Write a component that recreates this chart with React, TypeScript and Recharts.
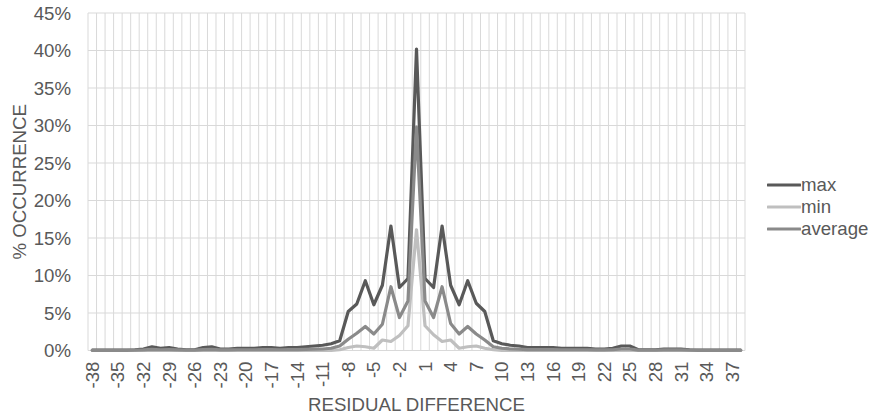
import React from 'react';
import { LineChart, Line, XAxis, YAxis, CartesianGrid } from 'recharts';

// Residual difference categories (-38 … 38)
const categories = [
  -38, -37, -36, -35, -34, -33, -32, -31, -30, -29, -28, -27, -26, -25, -24, -23, -22, -21, -20,
  -19, -18, -17, -16, -15, -14, -13, -12, -11, -10, -9, -8, -7, -6, -5, -4, -3, -2, -1, 0,
  1, 2, 3, 4, 5, 6, 7, 8, 9, 10, 11, 12, 13, 14, 15, 16, 17, 18, 19, 20,
  21, 22, 23, 24, 25, 26, 27, 28, 29, 30, 31, 32, 33, 34, 35, 36, 37, 38,
];

// % occurrence per category
const maxValues = [
  0.05, 0.05, 0.05, 0.05, 0.05, 0.1, 0.2, 0.5, 0.3, 0.4, 0.2, 0.1, 0.1, 0.4, 0.5, 0.2, 0.2, 0.3, 0.3,
  0.3, 0.4, 0.4, 0.3, 0.4, 0.4, 0.5, 0.6, 0.7, 0.9, 1.3, 5.2, 6.2, 9.3, 6.1, 8.7, 16.6, 8.4, 9.6, 40.2,
  9.6, 8.4, 16.6, 8.7, 6.1, 9.3, 6.3, 5.2, 1.3, 0.9, 0.7, 0.6, 0.4, 0.4, 0.4, 0.4, 0.3, 0.3, 0.3, 0.3,
  0.2, 0.2, 0.3, 0.6, 0.6, 0.1, 0.1, 0.1, 0.2, 0.2, 0.2, 0.1, 0.05, 0.05, 0.05, 0.05, 0.05, 0.05,
];

const minValues = [
  0, 0, 0, 0, 0, 0, 0, 0, 0, 0, 0, 0, 0, 0, 0, 0, 0, 0, 0,
  0, 0, 0, 0, 0, 0, 0, 0, 0, 0, 0.1, 0.4, 0.6, 0.5, 0.3, 1.4, 1.2, 2.0, 3.3, 16.1,
  3.3, 2.1, 1.2, 1.4, 0.3, 0.5, 0.6, 0.3, 0.1, 0, 0, 0, 0, 0, 0, 0, 0, 0, 0, 0,
  0, 0, 0, 0, 0, 0, 0, 0, 0, 0, 0, 0, 0, 0, 0, 0, 0, 0,
];

const averageValues = [
  0.02, 0.02, 0.02, 0.02, 0.02, 0.05, 0.08, 0.15, 0.1, 0.12, 0.08, 0.05, 0.05, 0.12, 0.15, 0.08, 0.08, 0.1, 0.1,
  0.1, 0.12, 0.12, 0.1, 0.12, 0.12, 0.15, 0.18, 0.2, 0.3, 0.6, 1.5, 2.3, 3.2, 2.2, 3.5, 8.5, 4.4, 6.6, 29.8,
  6.6, 4.4, 8.5, 3.6, 2.2, 3.2, 2.2, 1.4, 0.5, 0.3, 0.2, 0.18, 0.12, 0.12, 0.12, 0.12, 0.1, 0.1, 0.1, 0.1,
  0.08, 0.08, 0.1, 0.2, 0.2, 0.05, 0.05, 0.05, 0.08, 0.08, 0.08, 0.05, 0.02, 0.02, 0.02, 0.02, 0.02, 0.02,
];

const xTickLabels = [-38, -35, -32, -29, -26, -23, -20, -17, -14, -11, -8, -5, -2, 1, 4, 7, 10, 13, 16, 19, 22, 25, 28, 31, 34, 37];
const yTickLabels = [0, 5, 10, 15, 20, 25, 30, 35, 40, 45];

const series = [
  { key: 'max', name: 'max', color: '#595959' },
  { key: 'min', name: 'min', color: '#bfbfbf' },
  { key: 'average', name: 'average', color: '#8a8a8a' },
];

const data = categories.map((c, i) => ({
  x: c,
  max: maxValues[i],
  min: minValues[i],
  average: averageValues[i],
}));

// category band boundaries for the vertical grid
const bandEdges = [...categories.map((c) => c - 0.5), categories[categories.length - 1] + 0.5];

const FONT = '"Liberation Sans", Arial, sans-serif';
const FONT_SIZE = 18.67;
const TEXT = '#595959';

const XTick = (props: any) => {
  const { x, y, payload } = props;
  return (
    <text
      x={x}
      y={y}
      transform={`rotate(-90, ${x}, ${y})`}
      textAnchor="end"
      dy="0.35em"
      fill={TEXT}
      fontSize={FONT_SIZE}
      fontFamily={FONT}
    >
      {payload.value}
    </text>
  );
};

const YTitle = (props: any) => {
  const { viewBox } = props;
  const cx = viewBox.x + 19;
  const cy = viewBox.y + viewBox.height / 2;
  return (
    <text
      x={cx}
      y={cy}
      transform={`rotate(-90, ${cx}, ${cy})`}
      textAnchor="middle"
      dy="0.35em"
      fill={TEXT}
      fontSize={FONT_SIZE}
      fontFamily={FONT}
    >
      % OCCURRENCE
    </text>
  );
};

const XTitle = (props: any) => {
  const { viewBox } = props;
  const cx = viewBox.x + viewBox.width / 2;
  const cy = viewBox.y + 53.5;
  return (
    <text x={cx} y={cy} textAnchor="middle" dy="0.35em" fill={TEXT} fontSize={FONT_SIZE} fontFamily={FONT}>
      RESIDUAL DIFFERENCE
    </text>
  );
};

export default function App() {
  return (
    <div style={{ position: 'absolute', left: 0, top: 0, width: 872, height: 416, background: '#fff' }}>
      <LineChart
        width={872}
        height={416}
        data={data}
        margin={{ top: 13, right: 127, bottom: 0, left: 0 }}
      >
        <CartesianGrid
          stroke="#d9d9d9"
          strokeWidth={1}
          horizontal={true}
          vertical={true}
          verticalValues={bandEdges}
        />
        <XAxis
          dataKey="x"
          type="number"
          domain={[-38.5, 38.5]}
          ticks={xTickLabels}
          interval={0}
          height={65.5}
          axisLine={false}
          tickLine={false}
          tickSize={0}
          tickMargin={11}
          tick={<XTick />}
          label={{ content: <XTitle /> }}
        />
        <YAxis
          type="number"
          domain={[0, 45]}
          ticks={yTickLabels}
          width={88}
          axisLine={false}
          tickLine={false}
          tickSize={0}
          tickMargin={17}
          tickFormatter={(v: number) => `${v}%`}
          tick={{ fill: TEXT, fontSize: FONT_SIZE, fontFamily: FONT }}
          label={{ content: <YTitle /> }}
        />
        {series.map((s) => (
          <Line
            key={s.key}
            dataKey={s.key}
            name={s.name}
            stroke={s.color}
            strokeWidth={3.2}
            strokeLinejoin="round"
            strokeLinecap="round"
            dot={false}
            activeDot={false}
            isAnimationActive={false}
          />
        ))}
      </LineChart>
      <div
        style={{
          position: 'absolute',
          left: 767,
          top: 174,
          fontFamily: FONT,
          fontSize: FONT_SIZE,
          color: TEXT,
        }}
      >
        {series.map((s) => (
          <div key={s.key} style={{ display: 'flex', alignItems: 'center', height: 22 }}>
            <svg width={34} height={6} style={{ display: 'block' }}>
              <line x1={1} y1={3} x2={33} y2={3} stroke={s.color} strokeWidth={3.2} strokeLinecap="round" />
            </svg>
            <span style={{ lineHeight: '22px' }}>{s.name}</span>
          </div>
        ))}
      </div>
    </div>
  );
}
